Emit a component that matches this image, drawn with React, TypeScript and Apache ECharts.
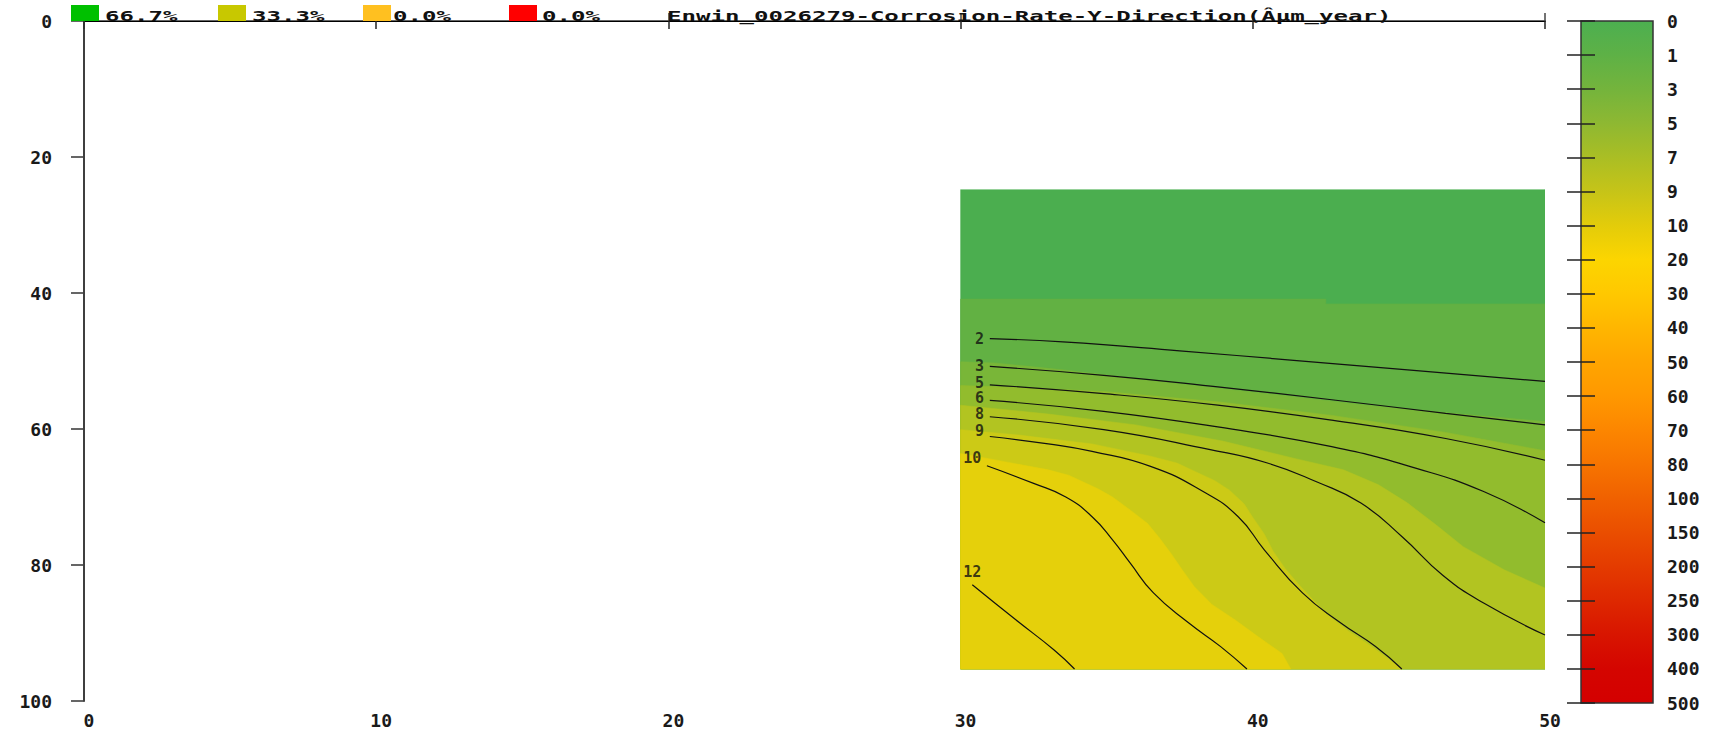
import React, { useEffect, useRef } from 'react';
import * as echarts from 'echarts';

// ---------- data ----------
const X_RANGE = [0, 50];
const Y_RANGE = [0, 100];
const DATA_X = [30, 50];
const DATA_Y = [24.8, 95.3];

// colour bands of the corrosion-rate field, top (lowest rate) to bottom-left (highest)
const BAND_COLORS = ['#4BAE4F', '#62B143', '#79B638', '#92BC2D', '#B2C421', '#CCCA16', '#E5D00B'];
// upper boundary of each band (band 0 fills the whole data area)
const EDGE_1 = [[30, 40.9], [42.5, 40.9], [42.5, 41.6], [50, 41.6]];
const EDGE_2 = [[30, 50.1], [31.2, 50.3], [33.5, 51.3], [35.8, 52.5], [38.2, 53.7], [40.5, 54.8], [43.9, 56.5], [46.8, 57.7], [50, 58.9]];
const EDGE_3 = [[30, 53.6], [32, 53.9], [34.9, 54.5], [38.8, 56.0], [42.7, 58.0], [46.6, 60.5], [50, 63.2]];
const EDGE_4 = [[30, 56.5], [33, 57.8], [36, 59.4], [39, 61.8], [41.5, 64.4], [43.1, 66.0], [44.3, 68.2], [45.3, 70.9], [46.3, 74.2], [47.2, 77.3], [48.6, 80.7], [50, 83.4]];
const EDGE_5 = [[30, 60.1], [32, 60.9], [34.5, 62.2], [36.5, 64.0], [37.4, 65.0], [38.0, 66.2], [38.7, 67.6], [39.2, 69.0], [39.7, 71.0], [40.0, 73.0], [40.4, 75.5], [40.7, 78.0], [41.1, 80.5], [41.6, 83.0], [42.1, 85.3], [42.6, 87.5], [43.3, 89.8], [44.0, 91.8], [45.1, 95.3]];
const EDGE_6 = [[30, 63.6], [31.5, 64.8], [33.0, 66.0], [33.7, 66.8], [34.2, 67.8], [34.7, 68.8], [35.2, 70.0], [35.8, 71.9], [36.4, 73.9], [36.8, 76.0], [37.2, 78.3], [37.6, 80.8], [38.0, 83.2], [38.6, 85.8], [39.4, 88.1], [40.2, 90.6], [41.0, 93.0], [41.3, 95.3]];
const BAND_EDGES = [null, EDGE_1, EDGE_2, EDGE_3, EDGE_4, EDGE_5, EDGE_6];

// contour lines
const C2 = [[31.0, 46.7], [33.5, 47.2], [37.5, 48.5], [41.4, 49.9], [45.3, 51.3], [50, 53.0]];
const C3 = [[31.0, 50.8], [34.9, 52.1], [38.8, 53.8], [42.7, 55.7], [46.6, 57.7], [50, 59.4]];
const C5 = [[31.0, 53.5], [34.9, 54.8], [38.8, 56.5], [42.7, 58.7], [46.6, 61.4], [50, 64.6]];
const C6 = [[31.0, 55.8], [34.9, 57.4], [38.8, 59.7], [42.7, 62.6], [45.6, 65.8], [47.9, 69.2], [50, 73.8]];
const C8 = [[31.0, 58.2], [34.9, 60.1], [38.5, 63.0], [40.5, 65.0], [42.2, 67.8], [43.7, 70.9], [45.1, 75.8], [46.5, 81.5], [47.9, 85.6], [50, 90.3]];
const C9 = [[31.0, 61.1], [33.0, 62.2], [34.5, 63.3], [36.5, 65.5], [38.3, 69.2], [39.5, 72.9], [40.4, 77.8], [41.7, 84.1], [43.0, 88.5], [44.2, 92.0], [45.1, 95.3]];
const C10 = [[30.9, 65.4], [32.5, 68.0], [33.6, 70.0], [34.5, 72.9], [35.2, 76.3], [35.8, 79.7], [36.6, 84.1], [37.8, 88.5], [38.9, 92.0], [39.8, 95.3]];
const C12 = [[30.4, 82.9], [31.9, 88.1], [33.2, 92.5], [33.9, 95.3]];
const CONTOURS = [C2, C3, C5, C6, C8, C9, C10, C12];
const CONTOUR_LABELS = [[30.65, 46.7, '2'], [30.65, 50.7, '3'], [30.65, 53.3, '5'], [30.65, 55.5, '6'], [30.65, 57.8, '8'], [30.65, 60.3, '9'], [30.4, 64.3, '10'], [30.4, 81.0, '12']];

// colour bar
const CB_LABELS = ['0', '1', '3', '5', '7', '9', '10', '20', '30', '40', '50', '60', '70', '80', '100', '150', '200', '250', '300', '400', '500'];
const CB_COLORS = ['#4CAF50', '#5EB146', '#74B43C', '#8EB832', '#AABE24', '#C6C418', '#E3CC0A', '#FCD500', '#FFC800', '#FFB600', '#FFA500', '#FF9800', '#FC8600', '#F77400', '#F06100', '#EA4E00', '#E43B00', '#DE2800', '#D81500', '#D40500', '#D40000'];

// legend shares
const LEGEND_LABELS = ['66.7%', '33.3%', '0.0%', '0.0%'];
const LEGEND_COLORS = ['#00C000', '#C8C800', '#FFC020', '#FF0000'];
const TITLE = 'Enwin_0026279-Corrosion-Rate-Y-Direction(Âµm_year)';

// ---------- chart ----------
const MONO = '"DejaVu Sans Mono", "Liberation Mono", monospace';
const labelFont = { fontFamily: MONO, fontWeight: 'bold' as const, fontSize: 18, color: '#1a1a1a' };

export default function App() {
  const ref = useRef<HTMLDivElement>(null);
  useEffect(() => {
    if (!ref.current) return;
    const chart = echarts.init(ref.current, undefined, { renderer: 'svg' });

    const [x0, x1] = DATA_X;
    const [y0, y1] = DATA_Y;
    const regions = BAND_EDGES.map((edge) => {
      if (!edge) return [[x0, y0], [x1, y0], [x1, y1], [x0, y1]];
      const poly = edge.map((p) => [p[0], p[1]]);
      const last = edge[edge.length - 1];
      if (last[0] === x1) poly.push([x1, y1]);
      poly.push([x0, y1]);
      return poly;
    });

    const stops = CB_COLORS.map((c, i) => ({ offset: i / (CB_COLORS.length - 1), color: c }));

    const legendGraphics: any[] = [];
    const legendX = [71, 218, 363, 509];
    const legendTextX = [105, 252, 393, 542];
    LEGEND_LABELS.forEach((t, i) => {
      legendGraphics.push({ type: 'rect', shape: { x: legendX[i], y: 5, width: 28, height: 16 }, style: { fill: LEGEND_COLORS[i] }, z: 10 });
      legendGraphics.push({
        type: 'text', x: legendTextX[i], y: 23, scaleX: 1.72, z: 10,
        style: { text: t, font: `bold 14px ${MONO}`, fill: '#111', align: 'left', verticalAlign: 'bottom', textAlign: 'left', textVerticalAlign: 'bottom' },
      });
    });

    const series: any[] = [
      {
        type: 'custom', name: 'bands', xAxisIndex: 0, yAxisIndex: 0, clip: true, z: 1,
        data: BAND_COLORS.map((_, i) => [i]),
        renderItem: (params: any, api: any) => {
          const idx = api.value(0);
          const pts = regions[idx].map((p) => api.coord(p));
          return { type: 'polygon', shape: { points: pts }, style: { fill: BAND_COLORS[idx], stroke: BAND_COLORS[idx], lineWidth: 0.5 } };
        },
      },
      ...CONTOURS.map((c) => ({
        type: 'line', xAxisIndex: 0, yAxisIndex: 0, data: c, smooth: 0.5, symbol: 'none', z: 3,
        lineStyle: { color: '#111', width: 1.2 }, silent: true,
      })),
      {
        type: 'scatter', xAxisIndex: 0, yAxisIndex: 0, z: 4, symbolSize: 1,
        itemStyle: { color: 'rgba(0,0,0,0)' },
        data: CONTOUR_LABELS,
        label: { show: true, position: 'inside', formatter: (p: any) => p.value[2], fontFamily: MONO, fontWeight: 'bold', fontSize: 15, lineHeight: 12, padding: 0, color: '#111' },
      },
      {
        type: 'custom', name: 'colorbar', xAxisIndex: 2, yAxisIndex: 2, z: 1,
        data: [[0, 0]],
        renderItem: (params: any, api: any) => {
          const a = api.coord([0, 0]);
          const b = api.coord([1, CB_LABELS.length - 1]);
          return {
            type: 'rect', shape: { x: a[0], y: a[1], width: b[0] - a[0], height: b[1] - a[1] },
            style: { fill: new echarts.graphic.LinearGradient(0, 0, 0, 1, stops), stroke: '#333', lineWidth: 1.5 },
          };
        },
      },
    ];

    chart.setOption({
      animation: false,
      backgroundColor: '#fff',
      grid: [
        { left: 84, right: 178, top: 21, bottom: 28 },
        { left: 1581, right: 70, top: 21, bottom: 26 },
      ],
      xAxis: [
        {
          type: 'value', gridIndex: 0, position: 'bottom', min: X_RANGE[0], max: X_RANGE[1], interval: 10,
          axisLine: { lineStyle: { color: '#666', width: 2 } },
          axisTick: { inside: true, length: 8, lineStyle: { color: '#444', width: 1.5 } },
          axisLabel: { ...labelFont, margin: 10, padding: [0, 0, 0, 10] },
          splitLine: { show: false },
        },
        {
          type: 'value', gridIndex: 0, position: 'top', min: X_RANGE[0], max: X_RANGE[1], interval: 10,
          axisLine: { lineStyle: { color: '#000', width: 1 } },
          axisTick: { inside: true, length: 8, lineStyle: { color: '#222', width: 1.5 } },
          axisLabel: { show: false }, splitLine: { show: false },
        },
        { type: 'value', gridIndex: 1, min: 0, max: 1, show: false },
      ],
      yAxis: [
        {
          type: 'value', gridIndex: 0, position: 'left', inverse: true, min: Y_RANGE[0], max: Y_RANGE[1], interval: 20,
          axisLine: { lineStyle: { color: '#666', width: 2 } },
          axisTick: { inside: false, length: 13, lineStyle: { color: '#666', width: 2 } },
          axisLabel: { ...labelFont, margin: 32 },
          splitLine: { show: false },
        },
        {
          type: 'value', gridIndex: 0, position: 'right', inverse: true, min: Y_RANGE[0], max: Y_RANGE[1], interval: 20, z: 5,
          axisLine: { lineStyle: { color: '#333', width: 1.5 } },
          axisTick: { show: false }, axisLabel: { show: false }, splitLine: { show: false },
        },
        {
          type: 'category', gridIndex: 1, position: 'right', inverse: true, boundaryGap: false, data: CB_LABELS, z: 5,
          axisLine: { show: false },
          axisTick: { inside: true, length: 14, interval: 0, lineStyle: { color: '#222', width: 1.5 } },
          axisLabel: { ...labelFont, interval: 0, margin: 14 },
          splitLine: { show: false },
        },
        {
          type: 'category', gridIndex: 1, position: 'left', inverse: true, boundaryGap: false, data: CB_LABELS, z: 5,
          axisLine: { show: false },
          axisTick: { inside: true, length: 14, interval: 0, lineStyle: { color: '#222', width: 1.5 } },
          axisLabel: { show: false }, splitLine: { show: false },
        },
      ],
      graphic: [
        ...legendGraphics,
        {
          type: 'text', x: 667, y: 23, scaleX: 1.72, z: 10,
          style: { text: TITLE, font: `bold 14px ${MONO}`, fill: '#111', align: 'left', verticalAlign: 'bottom', textAlign: 'left', textVerticalAlign: 'bottom' },
        },
      ],
      series,
    });
    return () => chart.dispose();
  }, []);

  return <div ref={ref} style={{ position: 'absolute', left: 0, top: 0, width: 1723, height: 729 }} />;
}
